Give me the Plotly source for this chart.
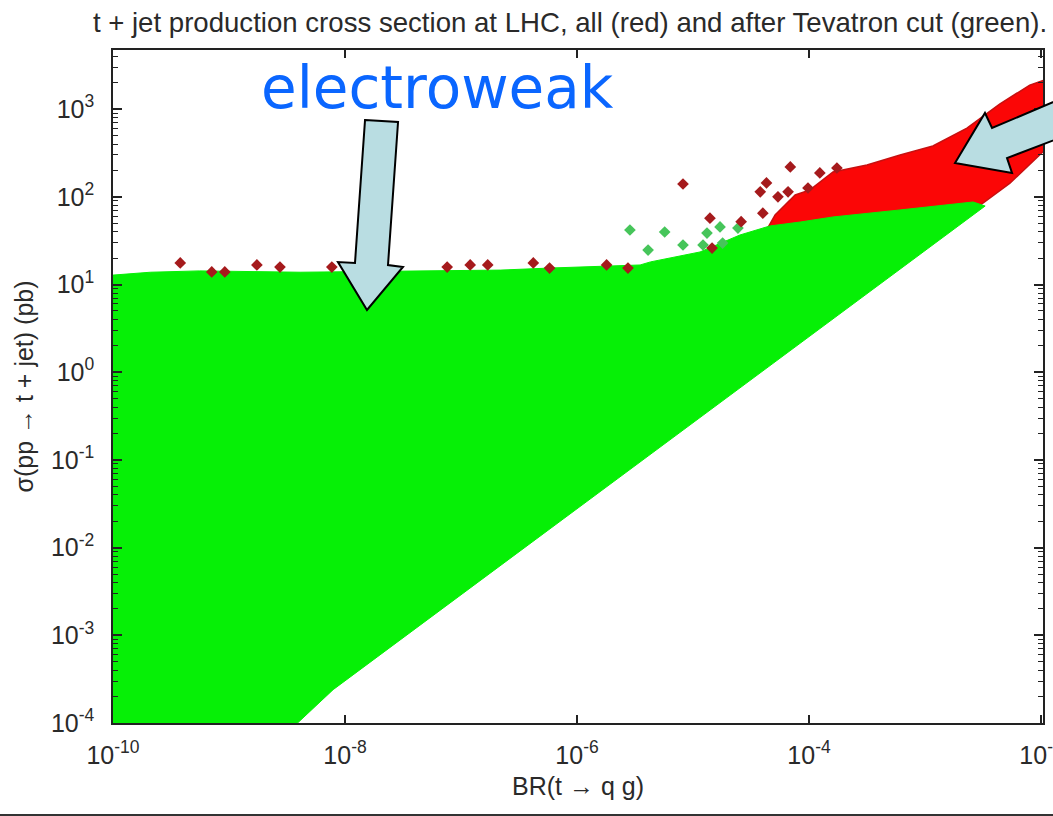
import plotly.graph_objects as go

# ---------------- data ----------------
x_tick_vals = [1e-10, 1e-8, 1e-6, 1e-4, 1e-2]
x_tick_text = ["10<sup>-10</sup>", "10<sup>-8</sup>", "10<sup>-6</sup>", "10<sup>-4</sup>", "10<sup>-2</sup>"]
y_tick_vals = [1e-4, 1e-3, 1e-2, 1e-1, 1e0, 1e1, 1e2, 1e3]
y_tick_text = ["10<sup>-4</sup>", "10<sup>-3</sup>", "10<sup>-2</sup>", "10<sup>-1</sup>",
               "10<sup>0</sup>", "10<sup>1</sup>", "10<sup>2</sup>", "10<sup>3</sup>"]
y_minor_vals = [m * 10.0 ** e for e in range(-4, 4) for m in range(2, 10)]

# envelope of the dense green cloud (after Tevatron cut)
green_br = [1e-10, 1e-10, 2.1e-10, 5.6e-10, 4.1e-9, 3.0e-8, 2.2e-7, 5.8e-7, 1.57e-6, 3.5e-6,
            4.3e-6, 1.15e-5, 2.54e-5, 4.6e-5, 8.4e-5, 1.61e-4, 6.1e-4, 2.6e-3, 3.3e-3,
            7.9e-9, 3.9e-9]
green_sigma = [1e-4, 12.8, 13.8, 14.3, 13.8, 14.3, 14.6, 15.4, 16.0, 16.7,
               18.1, 23.5, 36.7, 46.5, 51.6, 58.9, 70.8, 87.3, 78.5,
               2.4e-4, 1e-4]

# envelope of the dense red cloud (all points)
red_br = [4.4e-5, 5.1e-5, 7.6e-5, 1.02e-4, 1.61e-4, 3.16e-4, 6.1e-4, 1.17e-3, 2.3e-3, 4.4e-3,
          8.0e-3, 1.08e-2, 1.08e-2, 5.4e-3, 2.98e-3, 6.1e-4, 1.61e-4, 8.4e-5]
red_sigma = [44, 62, 105, 120, 192, 231, 300, 380, 608, 1140,
             1880, 2150, 342, 143, 80, 67, 56, 49]

# isolated red points
red_pt_br = [8.2e-6, 6.9e-5, 1.74e-4, 1.24e-4, 3.8e-5, 4.3e-5, 5.4e-5, 6.6e-5, 9.8e-5, 1.4e-5,
             1.46e-5, 4.0e-5, 2.6e-5,
             3.8e-10, 7.1e-10, 9.2e-10, 1.74e-9, 2.75e-9, 7.7e-9, 7.6e-8, 1.2e-7, 1.7e-7,
             4.2e-7, 5.8e-7, 1.8e-6, 2.75e-6]
red_pt_sigma = [140, 219, 213, 187, 114, 144, 100, 114, 126, 57,
                26, 65, 52,
                17.6, 13.9, 13.9, 16.7, 15.8, 15.8, 15.8, 16.7, 16.7,
                17.6, 15.4, 16.7, 15.4]

# isolated green points
green_pt_br = [2.86e-6, 5.7e-6, 4.1e-6, 1.32e-5, 1.71e-5, 8.2e-6, 1.22e-5, 1.8e-5, 2.44e-5]
green_pt_sigma = [41.8, 39.7, 24.7, 38.6, 45.3, 28.2, 28.2, 29.7, 44]

# ---------------- layout helpers ----------------
W, H = 1053, 816
L, R, T, B = 113, 10, 50, 93
PW, PH = W - L - R, H - T - B


def px(x, y):
    return (x - L) / PW, (H - B - y) / PH


def path(points):
    pts = [px(x, y) for x, y in points]
    return "M " + " L ".join(f"{a:.4f},{b:.4f}" for a, b in pts) + " Z"


arrow1 = [(365, 120), (398, 122), (388, 265), (403, 267), (367, 310), (338, 262), (355, 263)]
arrow2 = [(1070, 95), (992, 128), (985, 113), (955, 163), (1012, 173), (1007, 158), (1070, 134)]

fig = go.Figure()
fig.add_trace(go.Scatter(x=red_br, y=red_sigma, mode="lines", fill="toself",
                         fillcolor="#fb0606", line=dict(color="#c81010", width=1.5),
                         hoverinfo="skip"))
fig.add_trace(go.Scatter(x=green_br, y=green_sigma, mode="lines", fill="toself",
                         fillcolor="#06f006", line=dict(color="#06f006", width=1),
                         hoverinfo="skip"))
fig.add_trace(go.Scatter(x=green_pt_br, y=green_pt_sigma, mode="markers",
                         marker=dict(symbol="diamond", size=9, color="#46c55a"),
                         hoverinfo="skip"))
fig.add_trace(go.Scatter(x=red_pt_br, y=red_pt_sigma, mode="markers",
                         marker=dict(symbol="diamond", size=9, color="#a51a1c"),
                         hoverinfo="skip"))

axis_font = dict(family="Liberation Sans, Arial, sans-serif", size=25, color="#2a2a2a")

fig.update_layout(
    width=W, height=H,
    margin=dict(l=L, r=R, t=T, b=B, pad=0, autoexpand=False),
    paper_bgcolor="white", plot_bgcolor="white",
    showlegend=False, hovermode=False,
    title=dict(text="t + jet production cross section at LHC, all (red) and after Tevatron cut (green).",
               x=570 / W, xref="container", xanchor="center",
               y=1 - 22 / H, yref="container", yanchor="middle",
               font=dict(family="Liberation Sans, Arial, sans-serif", size=27.6, color="#2a2a2a")),
    xaxis=dict(type="log", range=[-10, -10 + PW / 116.0], automargin=False,
               tickvals=x_tick_vals, ticktext=x_tick_text, tickfont=axis_font,
               ticks="inside", ticklen=8, tickwidth=1.5, tickcolor="#222",
               showline=True, linecolor="#222", linewidth=1.5, mirror="ticks",
               showgrid=False, zeroline=False, ticklabelstandoff=9,
               ticklabeloverflow="allow",
               title=dict(text="BR(t → q g)", font=axis_font, standoff=10)),
    yaxis=dict(type="log", range=[-4, -4 + PH / 87.7], automargin=False,
               tickvals=y_tick_vals, ticktext=y_tick_text, tickfont=axis_font,
               ticks="inside", ticklen=9, tickwidth=1.5, tickcolor="#222",
               minor=dict(tickvals=y_minor_vals, ticks="inside", ticklen=5, tickwidth=1.2,
                          tickcolor="#222", showgrid=False),
               showline=True, linecolor="#222", linewidth=1.5, mirror="ticks",
               showgrid=False, zeroline=False, ticklabelstandoff=12,
               ticklabeloverflow="allow",
               title=dict(text="σ(pp → t + jet) (pb)", font=axis_font, standoff=10)),
    shapes=[
        dict(type="path", xref="paper", yref="paper", path=path(arrow1),
             fillcolor="#b9dde2", line=dict(color="black", width=2)),
        dict(type="path", xref="paper", yref="paper", path=path(arrow2),
             fillcolor="#b9dde2", line=dict(color="black", width=2)),
        dict(type="line", xref="paper", yref="paper",
             x0=px(0, 815)[0], x1=px(W, 815)[0], y0=px(0, 815)[1], y1=px(0, 815)[1],
             line=dict(color="#333", width=2)),
    ],
    annotations=[
        dict(text="electroweak", xref="paper", yref="paper",
             x=px(437, 88)[0], y=px(437, 88)[1], xanchor="center", yanchor="middle",
             showarrow=False,
             font=dict(family="Comic Sans MS, DejaVu Sans, sans-serif", size=58, color="#0a66ff")),
    ],
)

fig.write_html("out.html")
